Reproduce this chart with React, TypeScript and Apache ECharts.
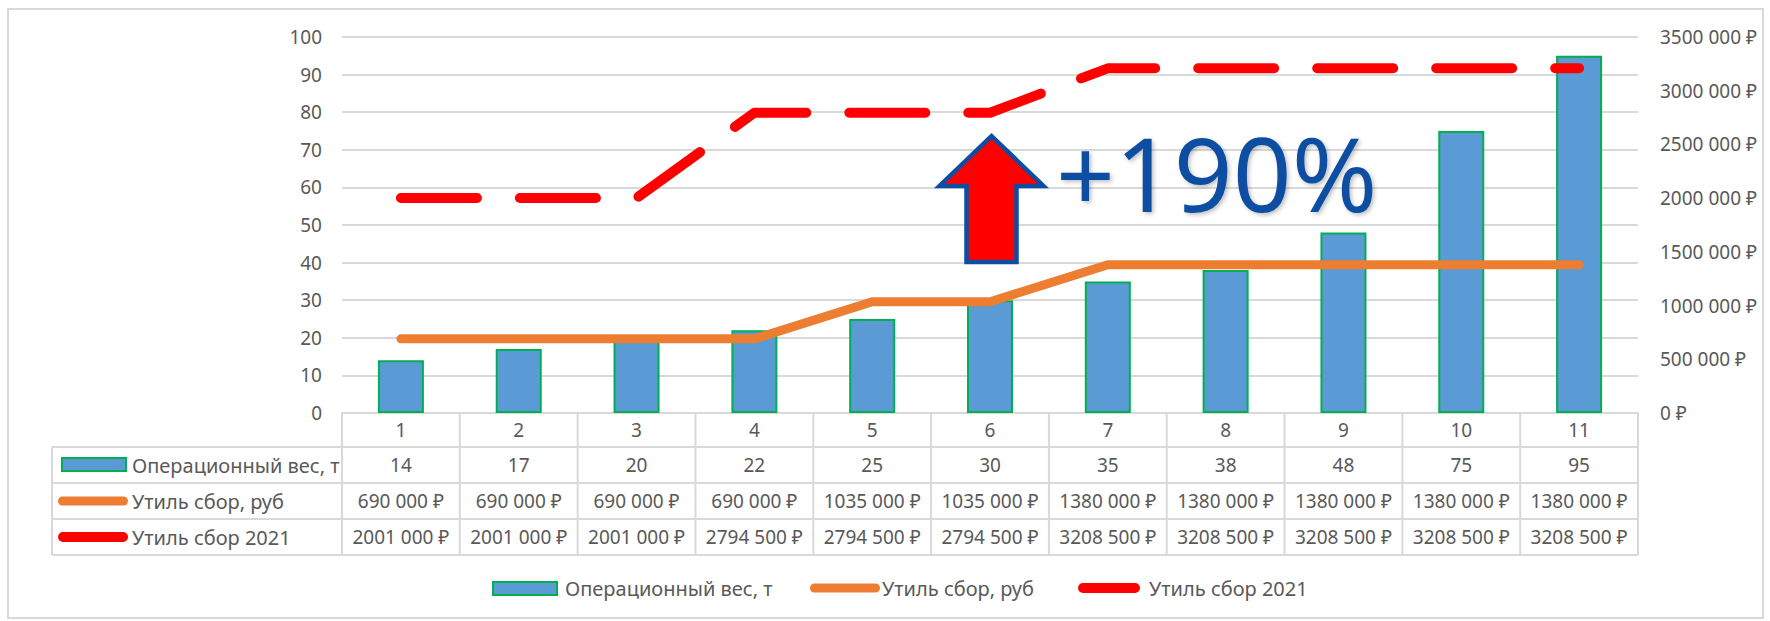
import React, { useEffect, useRef } from 'react';
import * as echarts from 'echarts';

// ---------- data ----------
const categories = ['1', '2', '3', '4', '5', '6', '7', '8', '9', '10', '11'];
const weightT = [14, 17, 20, 22, 25, 30, 35, 38, 48, 75, 95];
const feeRub = [690000, 690000, 690000, 690000, 1035000, 1035000, 1380000, 1380000, 1380000, 1380000, 1380000];
const fee2021 = [2001000, 2001000, 2001000, 2794500, 2794500, 2794500, 3208500, 3208500, 3208500, 3208500, 3208500];
const seriesNames = ['Операционный вес, т', 'Утиль сбор, руб', 'Утиль сбор 2021'];
const leftTicks = { min: 0, max: 100, interval: 10 };
const rightTicks = { min: 0, max: 3500000, interval: 500000 };
const annotationText = '+190%';
const annotationCategory = 5; // index of category "6"

// ---------- styles ----------
const W = 1770;
const H = 621;
const GL = 342;
const GR = 1638;
const GT = 37;
const GB = 413;
const CELL = (GR - GL) / categories.length;
const ROWS = [447, 483, 519, 555];
const TABLE_LEFT = 52;
const FONT = '"Noto Sans", "Open Sans", sans-serif';
const TXT = '#595959';
const LINE = '#D9D9D9';
const BAR = '#5B9BD5';
const BAR_BORDER = '#00B050';
const ORANGE = '#ED7D31';
const RED = '#FF0000';
const BLUE = '#0B4EA2';

function rub(v: number): string {
  if (v >= 1000) {
    return `${Math.floor(v / 1000)}\u00a0${String(v % 1000).padStart(3, '0')}\u00a0₽`;
  }
  return `${v}\u00a0₽`;
}

function txt(text: string, x: number, y: number, align: string, size = 19, fill = TXT): any {
  return {
    type: 'text',
    x,
    y,
    silent: true,
    style: { text, align, verticalAlign: 'middle', fontFamily: FONT, fontSize: size, fill },
  };
}

function hline(x1: number, x2: number, y: number): any {
  return { type: 'line', silent: true, shape: { x1, y1: y, x2, y2: y }, style: { stroke: LINE, lineWidth: 2 } };
}
function vline(x: number, y1: number, y2: number): any {
  return { type: 'line', silent: true, shape: { x1: x, y1, x2: x, y2 }, style: { stroke: LINE, lineWidth: 2 } };
}

function buildGraphics(): any[] {
  const g: any[] = [];
  // outer frame
  g.push({ type: 'rect', silent: true, shape: { x: 8, y: 9, width: 1755, height: 609 }, style: { fill: 'none', stroke: LINE, lineWidth: 2 } });
  // table grid
  for (let i = 0; i <= categories.length; i++) g.push(vline(GL + i * CELL, GB, ROWS[3]));
  g.push(vline(TABLE_LEFT, ROWS[0], ROWS[3]));
  ROWS.forEach((y) => g.push(hline(TABLE_LEFT, GR, y)));
  // row values
  const rowMid = [465, 501, 537];
  categories.forEach((_, i) => {
    const cx = GL + (i + 0.5) * CELL;
    g.push(txt(String(weightT[i]), cx, rowMid[0], 'center'));
    g.push(txt(rub(feeRub[i]), cx, rowMid[1], 'center'));
    g.push(txt(rub(fee2021[i]), cx, rowMid[2], 'center'));
  });
  // row headers with keys
  g.push({ type: 'rect', silent: true, shape: { x: 62, y: 458, width: 64, height: 13 }, style: { fill: BAR, stroke: BAR_BORDER, lineWidth: 2 } });
  g.push({ type: 'line', silent: true, shape: { x1: 62.5, y1: 501, x2: 123.5, y2: 501 }, style: { stroke: ORANGE, lineWidth: 9, lineCap: 'round' } });
  g.push({ type: 'line', silent: true, shape: { x1: 63, y1: 537, x2: 123, y2: 537 }, style: { stroke: RED, lineWidth: 10, lineCap: 'round' } });
  g.push(txt(seriesNames[0], 132, rowMid[0], 'left', 20));
  g.push(txt(seriesNames[1], 132, rowMid[1], 'left', 20));
  g.push(txt(seriesNames[2], 132, rowMid[2], 'left', 20));
  // bottom legend
  const ly = 588;
  g.push({ type: 'rect', silent: true, shape: { x: 493, y: 582, width: 64, height: 13 }, style: { fill: BAR, stroke: BAR_BORDER, lineWidth: 2 } });
  g.push(txt(seriesNames[0], 565, ly, 'left', 20));
  g.push({ type: 'line', silent: true, shape: { x1: 814.5, y1: ly, x2: 875.5, y2: ly }, style: { stroke: ORANGE, lineWidth: 9, lineCap: 'round' } });
  g.push(txt(seriesNames[1], 882, ly, 'left', 20));
  g.push({ type: 'line', silent: true, shape: { x1: 1083, y1: ly, x2: 1135, y2: ly }, style: { stroke: RED, lineWidth: 10, lineCap: 'round' } });
  g.push(txt(seriesNames[2], 1149, ly, 'left', 20));
  // arrow annotation
  const ax = GL + (annotationCategory + 0.5) * CELL + 1.5;
  g.push({
    type: 'polygon',
    silent: true,
    z: 100,
    shape: {
      points: [
        [ax, 136], [ax + 52, 186], [ax + 25, 186], [ax + 25, 262],
        [ax - 25, 262], [ax - 25, 186], [ax - 52, 186],
      ],
    },
    style: { fill: RED, stroke: BLUE, lineWidth: 4.5, lineJoin: 'miter' },
  });
  g.push({
    type: 'text',
    silent: true,
    z: 100,
    x: 1056,
    y: 172,
    style: {
      text: annotationText,
      align: 'left',
      verticalAlign: 'middle',
      fontFamily: FONT,
      fontSize: 103,
      fill: BLUE,
      textShadowColor: 'rgba(0,0,0,0.25)',
      textShadowBlur: 4,
      textShadowOffsetX: 2,
      textShadowOffsetY: 2,
    },
  });
  return g;
}

export default function App() {
  const ref = useRef<HTMLDivElement>(null);
  useEffect(() => {
    if (!ref.current) return;
    const chart = echarts.init(ref.current, undefined, { renderer: 'svg' });
    chart.setOption({
      animation: false,
      backgroundColor: '#ffffff',
      grid: { left: GL, top: GT, width: GR - GL, height: GB - GT },
      xAxis: {
        type: 'category',
        data: categories,
        axisLine: { show: true, lineStyle: { color: LINE, width: 2 } },
        axisTick: { show: false },
        axisLabel: { margin: 17, verticalAlign: 'middle', color: TXT, fontFamily: FONT, fontSize: 19 },
      },
      yAxis: [
        {
          type: 'value',
          min: leftTicks.min,
          max: leftTicks.max,
          interval: leftTicks.interval,
          axisLine: { show: false },
          axisTick: { show: false },
          splitLine: { lineStyle: { color: LINE, width: 2 } },
          axisLabel: { margin: 20, color: TXT, fontFamily: FONT, fontSize: 19 },
        },
        {
          type: 'value',
          min: rightTicks.min,
          max: rightTicks.max,
          interval: rightTicks.interval,
          axisLine: { show: false },
          axisTick: { show: false },
          splitLine: { show: false },
          axisLabel: { margin: 22, color: TXT, fontFamily: FONT, fontSize: 19, formatter: (v: number) => rub(v) },
        },
      ],
      series: [
        {
          name: seriesNames[0],
          type: 'bar',
          data: weightT,
          barWidth: 46,
          z: 2,
          itemStyle: { color: BAR, borderColor: BAR_BORDER, borderWidth: 2 },
        },
        {
          name: seriesNames[1],
          type: 'line',
          yAxisIndex: 1,
          data: feeRub,
          symbol: 'none',
          z: 3,
          lineStyle: { color: ORANGE, width: 9, cap: 'round', join: 'round' },
        },
        {
          name: seriesNames[2],
          type: 'line',
          yAxisIndex: 1,
          data: fee2021,
          symbol: 'none',
          z: 4,
          lineStyle: { color: RED, width: 10, type: [76, 43], cap: 'round', join: 'round' },
        },
      ],
      graphic: buildGraphics(),
    });
    return () => chart.dispose();
  }, []);
  return (
    <div
      ref={ref}
      style={{ position: 'absolute', left: 0, top: 0, width: W, height: H, background: '#fff' }}
    />
  );
}
